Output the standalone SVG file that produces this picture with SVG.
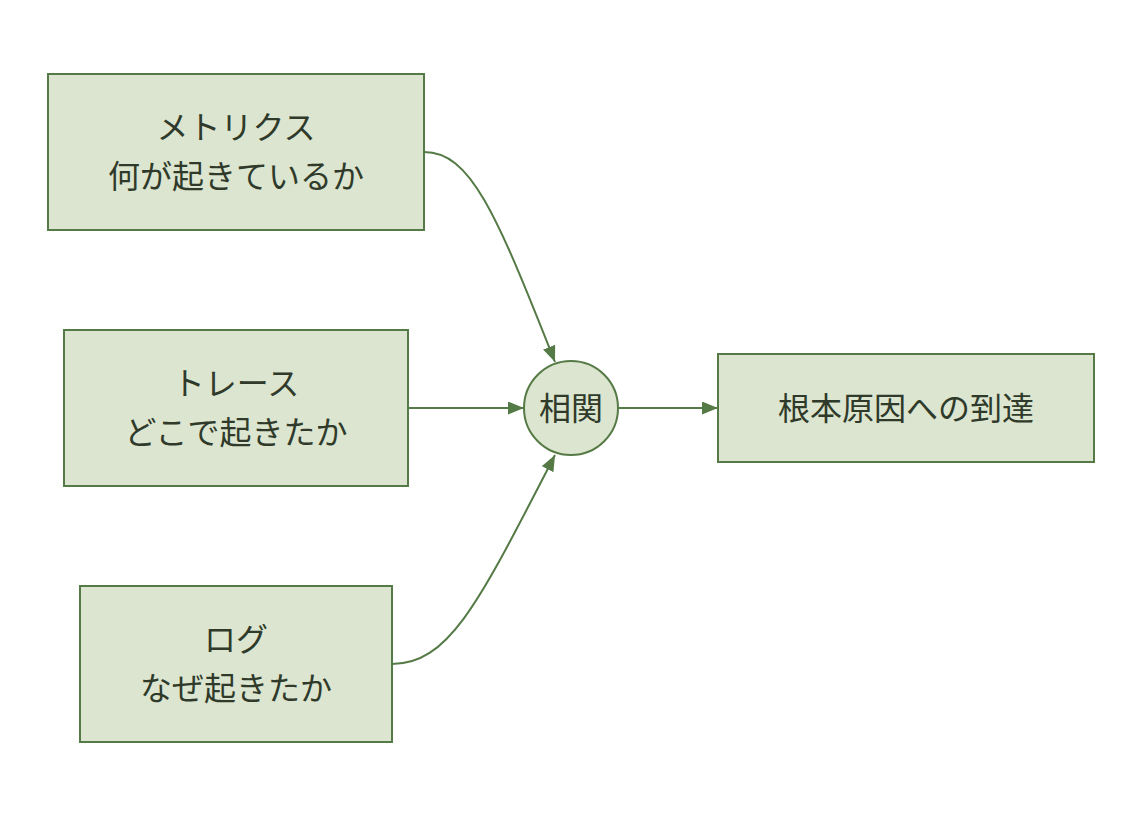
<svg xmlns="http://www.w3.org/2000/svg" width="1142" height="820" viewBox="0 0 1142 820">
<style>
.box{fill:#dce5cf;stroke:#557a46;stroke-width:2}
.lbl{font-family:"Noto Sans CJK JP","Noto Sans",sans-serif;font-size:32px;fill:#2f3a2a;text-anchor:middle;dominant-baseline:central}
.edge{fill:none;stroke:#557a46;stroke-width:2}
</style>
<defs>
<marker id="arr" viewBox="0 0 16 13" markerWidth="16" markerHeight="13" refX="16" refY="6.5" markerUnits="userSpaceOnUse" orient="auto">
<path d="M0,0 L16,6.5 L0,13 z" fill="#557a46"/>
</marker>
</defs>
<rect width="1142" height="820" fill="#ffffff"/>
<g id="connectors">
<path class="edge" d="M424,152 C470,152 495,210 555,362" marker-end="url(#arr)"/>
<path class="edge" d="M408,408 L524,408" marker-end="url(#arr)"/>
<path class="edge" d="M392,664 C450,664 480,600 555,455" marker-end="url(#arr)"/>
<path class="edge" d="M618,408 L718,408" marker-end="url(#arr)"/>
</g>
<g id="metrics">
<rect class="box" x="48" y="74" width="376" height="156"/>
<text class="lbl" x="236" y="125">メトリクス</text>
<text class="lbl" x="236" y="174">何が起きているか</text>
</g>
<g id="traces">
<rect class="box" x="64" y="330" width="344" height="156"/>
<text class="lbl" x="236" y="381">トレース</text>
<text class="lbl" x="236" y="430">どこで起きたか</text>
</g>
<g id="logs">
<rect class="box" x="80" y="586" width="312" height="156"/>
<text class="lbl" x="236" y="637">ログ</text>
<text class="lbl" x="236" y="686">なぜ起きたか</text>
</g>
<g id="correlation">
<circle class="box" cx="571" cy="408" r="47"/>
<text class="lbl" x="571" y="406">相関</text>
</g>
<g id="rootcause">
<rect class="box" x="718" y="354" width="376" height="108"/>
<text class="lbl" x="906" y="406">根本原因への到達</text>
</g>
</svg>
